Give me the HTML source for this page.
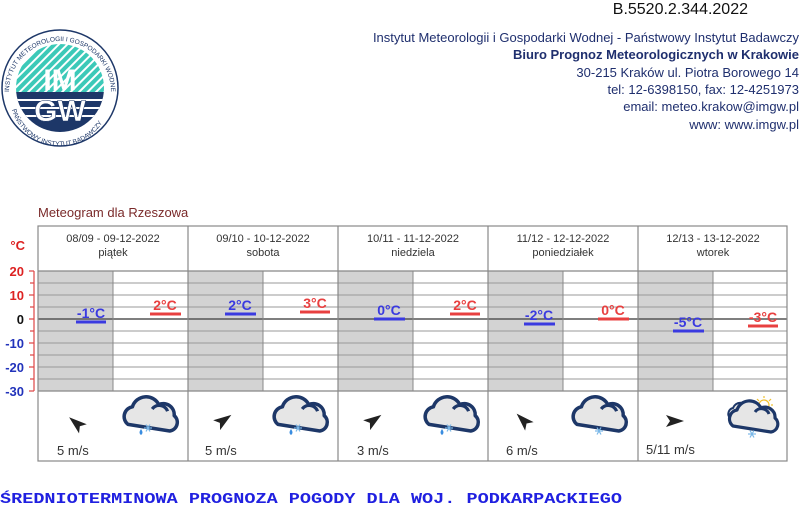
<!DOCTYPE html>
<html><head><meta charset="utf-8"><style>
html,body{margin:0;padding:0;background:#fff;}
svg{display:block;font-family:"Liberation Sans",Arial,sans-serif;}
</style></head><body>
<svg width="800" height="505" viewBox="0 0 800 505" xmlns="http://www.w3.org/2000/svg">
<defs>
<clipPath id="lc"><circle cx="60" cy="88" r="44"/></clipPath>
<pattern id="st" width="6" height="6" patternUnits="userSpaceOnUse" patternTransform="rotate(45)">
<rect width="6" height="6" fill="#3cc9b8"/><rect width="2" height="6" fill="#fff"/></pattern>
<g id="cloud">
<path d="M0,24 a9,9 0 0 1 4,-16 a13,13 0 0 1 24,-2 a10,10 0 0 1 14,10 a8,8 0 0 1 -4,14 z" fill="#e6e6e6" stroke="#1d3768" stroke-width="3.2" stroke-linejoin="round"/>
<path d="M22,10 a8,8 0 0 1 14,2" fill="none" stroke="#1d3768" stroke-width="3"/>
</g>
<g id="snow" stroke="#7ab8e8" stroke-width="1.2"><line x1="-4" y1="0" x2="4" y2="0"/><line x1="-2" y1="-3.5" x2="2" y2="3.5"/><line x1="2" y1="-3.5" x2="-2" y2="3.5"/></g>
</defs>

<!-- Logo -->
<circle cx="60" cy="88" r="58" fill="#fff" stroke="#1d3768" stroke-width="1.5"/>
<g clip-path="url(#lc)">
<rect x="0" y="30" width="120" height="62" fill="url(#st)"/>
<rect x="0" y="92" width="120" height="50" fill="#1d3768"/>
<g stroke="#fff" stroke-width="2"><line x1="0" y1="100" x2="120" y2="100"/><line x1="0" y1="108" x2="120" y2="108"/><line x1="0" y1="116" x2="120" y2="116"/></g>
</g>
<text x="60" y="90" text-anchor="middle" font-size="30" font-weight="bold" fill="#fff">IM</text>
<text x="60" y="121" text-anchor="middle" font-size="30" font-weight="bold" fill="#fff" stroke="#1d3768" stroke-width="0.5">GW</text>
<path id="arcT" d="M9,92 A51,51 0 0 1 111,92" fill="none"/>
<text font-size="6.5" fill="#1d3768"><textPath href="#arcT">INSTYTUT METEOROLOGII I GOSPODARKI WODNEJ</textPath></text>
<path id="arcB" d="M10,96 A50,50 0 0 0 110,96" fill="none"/>
<text font-size="6.5" fill="#1d3768"><textPath href="#arcB" startOffset="14">PAŃSTWOWY INSTYTUT BADAWCZY</textPath></text>

<!-- Header text -->
<text x="748" y="14" text-anchor="end" font-size="16" fill="#111">B.5520.2.344.2022</text>
<g fill="#1f2f6e" font-size="13" text-anchor="end">
<text x="799" y="42">Instytut Meteorologii i Gospodarki Wodnej - Państwowy Instytut Badawczy</text>
<text x="799" y="59" font-weight="bold">Biuro Prognoz Meteorologicznych w Krakowie</text>
<text x="799" y="77">30-215 Kraków ul. Piotra Borowego 14</text>
<text x="799" y="94">tel: 12-6398150, fax: 12-4251973</text>
<text x="799" y="111">email: meteo.krakow@imgw.pl</text>
<text x="799" y="129">www: www.imgw.pl</text>
</g>

<text x="38" y="217" font-size="13" fill="#7a2a2a">Meteogram dla Rzeszowa</text>

<g fill="#d3d3d3">
<rect x="38" y="271" width="75" height="120"/><rect x="188" y="271" width="75" height="120"/>
<rect x="338" y="271" width="75" height="120"/><rect x="488" y="271" width="75" height="120"/>
<rect x="638" y="271" width="75" height="120"/>
</g>
<g stroke="#9a9a9a" stroke-width="1">
<line x1="38" y1="283" x2="787" y2="283"/><line x1="38" y1="295" x2="787" y2="295"/>
<line x1="38" y1="307" x2="787" y2="307"/><line x1="38" y1="331" x2="787" y2="331"/>
<line x1="38" y1="343" x2="787" y2="343"/><line x1="38" y1="355" x2="787" y2="355"/>
<line x1="38" y1="367" x2="787" y2="367"/><line x1="38" y1="379" x2="787" y2="379"/>
</g>
<line x1="38" y1="319" x2="787" y2="319" stroke="#555" stroke-width="1.5"/>
<g stroke="#888" stroke-width="1">
<line x1="113" y1="271" x2="113" y2="391"/><line x1="263" y1="271" x2="263" y2="391"/>
<line x1="413" y1="271" x2="413" y2="391"/><line x1="563" y1="271" x2="563" y2="391"/>
<line x1="713" y1="271" x2="713" y2="391"/>
</g>
<g stroke="#888" stroke-width="1.2" fill="none">
<rect x="38" y="226" width="749" height="235"/>
<line x1="38" y1="271" x2="787" y2="271"/><line x1="38" y1="391" x2="787" y2="391"/>
<line x1="188" y1="226" x2="188" y2="461"/><line x1="338" y1="226" x2="338" y2="461"/>
<line x1="488" y1="226" x2="488" y2="461"/><line x1="638" y1="226" x2="638" y2="461"/>
</g>

<g stroke="#d44" stroke-width="1.2">
<line x1="34" y1="271" x2="34" y2="391"/>
<line x1="29" y1="271" x2="34" y2="271"/><line x1="30" y1="283" x2="34" y2="283"/><line x1="29" y1="295" x2="34" y2="295"/>
<line x1="30" y1="307" x2="34" y2="307"/><line x1="29" y1="319" x2="34" y2="319"/><line x1="30" y1="331" x2="34" y2="331"/>
<line x1="29" y1="343" x2="34" y2="343"/><line x1="30" y1="355" x2="34" y2="355"/><line x1="29" y1="367" x2="34" y2="367"/>
<line x1="30" y1="379" x2="34" y2="379"/><line x1="29" y1="391" x2="34" y2="391"/>
</g>
<g font-size="13" font-weight="bold" text-anchor="end">
<text x="25" y="250" fill="#d22">°C</text>
<text x="24" y="276" fill="#d22">20</text><text x="24" y="300" fill="#d22">10</text>
<text x="24" y="324" fill="#111">0</text>
<text x="24" y="348" fill="#2233bb">-10</text><text x="24" y="372" fill="#2233bb">-20</text><text x="24" y="396" fill="#2233bb">-30</text>
</g>

<g font-size="11" fill="#333" text-anchor="middle">
<text x="113" y="242">08/09 - 09-12-2022</text><text x="113" y="256">piątek</text>
<text x="263" y="242">09/10 - 10-12-2022</text><text x="263" y="256">sobota</text>
<text x="413" y="242">10/11 - 11-12-2022</text><text x="413" y="256">niedziela</text>
<text x="563" y="242">11/12 - 12-12-2022</text><text x="563" y="256">poniedziałek</text>
<text x="713" y="242">12/13 - 13-12-2022</text><text x="713" y="256">wtorek</text>
</g>

<g stroke-width="3">
<line x1="76" y1="322" x2="106" y2="322" stroke="#3a3ae0"/>
<line x1="150" y1="314" x2="181" y2="314" stroke="#e84040"/>
<line x1="225" y1="314" x2="256" y2="314" stroke="#3a3ae0"/>
<line x1="300" y1="312" x2="330" y2="312" stroke="#e84040"/>
<line x1="374" y1="319" x2="405" y2="319" stroke="#3a3ae0"/>
<line x1="450" y1="314" x2="480" y2="314" stroke="#e84040"/>
<line x1="524" y1="324" x2="555" y2="324" stroke="#3a3ae0"/>
<line x1="598" y1="319" x2="629" y2="319" stroke="#e84040"/>
<line x1="673" y1="331" x2="704" y2="331" stroke="#3a3ae0"/>
<line x1="748" y1="326" x2="778" y2="326" stroke="#e84040"/>
</g>
<g font-size="14" font-weight="bold" text-anchor="middle">
<text x="91" y="318" fill="#3a3ae0">-1°C</text>
<text x="165" y="310" fill="#e84040">2°C</text>
<text x="240" y="310" fill="#3a3ae0">2°C</text>
<text x="315" y="308" fill="#e84040">3°C</text>
<text x="389" y="315" fill="#3a3ae0">0°C</text>
<text x="465" y="310" fill="#e84040">2°C</text>
<text x="539" y="320" fill="#3a3ae0">-2°C</text>
<text x="613" y="315" fill="#e84040">0°C</text>
<text x="688" y="327" fill="#3a3ae0">-5°C</text>
<text x="763" y="322" fill="#e84040">-3°C</text>
</g>

<g fill="#222">
<path d="M-9,-6 L9,0 L-9,6 L-5,0 z" transform="translate(76,423) rotate(-140)"/>
<path d="M-9,-6 L9,0 L-9,6 L-5,0 z" transform="translate(224,420) rotate(-35)"/>
<path d="M-9,-6 L9,0 L-9,6 L-5,0 z" transform="translate(374,420) rotate(-35)"/>
<path d="M-9,-6 L9,0 L-9,6 L-5,0 z" transform="translate(523,420) rotate(-135)"/>
<path d="M-9,-6 L9,0 L-9,6 L-5,0 z" transform="translate(675,421)"/>
</g>
<g font-size="13" fill="#333">
<text x="57" y="455">5 m/s</text><text x="205" y="455">5 m/s</text><text x="357" y="455">3 m/s</text>
<text x="506" y="455">6 m/s</text><text x="646" y="454">5/11 m/s</text>
</g>

<g transform="translate(128,398) scale(1.1)"><use href="#cloud"/></g>
<path d="M141,429 q-3,4 0,6 q3,-2 0,-6z" fill="#3a8de0"/><use href="#snow" x="148" y="428"/>
<g transform="translate(278,398) scale(1.1)"><use href="#cloud"/></g>
<path d="M291,429 q-3,4 0,6 q3,-2 0,-6z" fill="#3a8de0"/><use href="#snow" x="298" y="428"/>
<g transform="translate(429,398) scale(1.1)"><use href="#cloud"/></g>
<path d="M442,429 q-3,4 0,6 q3,-2 0,-6z" fill="#3a8de0"/><use href="#snow" x="449" y="428"/>
<g transform="translate(577,398) scale(1.1)"><use href="#cloud"/></g><use href="#snow" x="599" y="431"/>
<g stroke="#f0c030" stroke-width="1.2" fill="none"><circle cx="764" cy="405" r="5"/>
<line x1="764" y1="396" x2="764" y2="398"/><line x1="771" y1="399" x2="769" y2="401"/><line x1="773" y1="405" x2="771" y2="405"/><line x1="757" y1="399" x2="759" y2="401"/></g>
<path d="M730,418 a6,6 0 0 1 3,-10 a8,8 0 0 1 15,0 a6,6 0 0 1 2,10 z" fill="#e6e6e6" stroke="#1d3768" stroke-width="2"/>
<g transform="translate(733,402)"><use href="#cloud"/></g>
<use href="#snow" x="752" y="434"/>

<text x="0" y="503" font-family="Liberation Mono,monospace" font-size="15" font-weight="bold" fill="#2020e0" textLength="622" lengthAdjust="spacingAndGlyphs">ŚREDNIOTERMINOWA PROGNOZA POGODY DLA WOJ. PODKARPACKIEGO</text>
</svg>
</body></html>
